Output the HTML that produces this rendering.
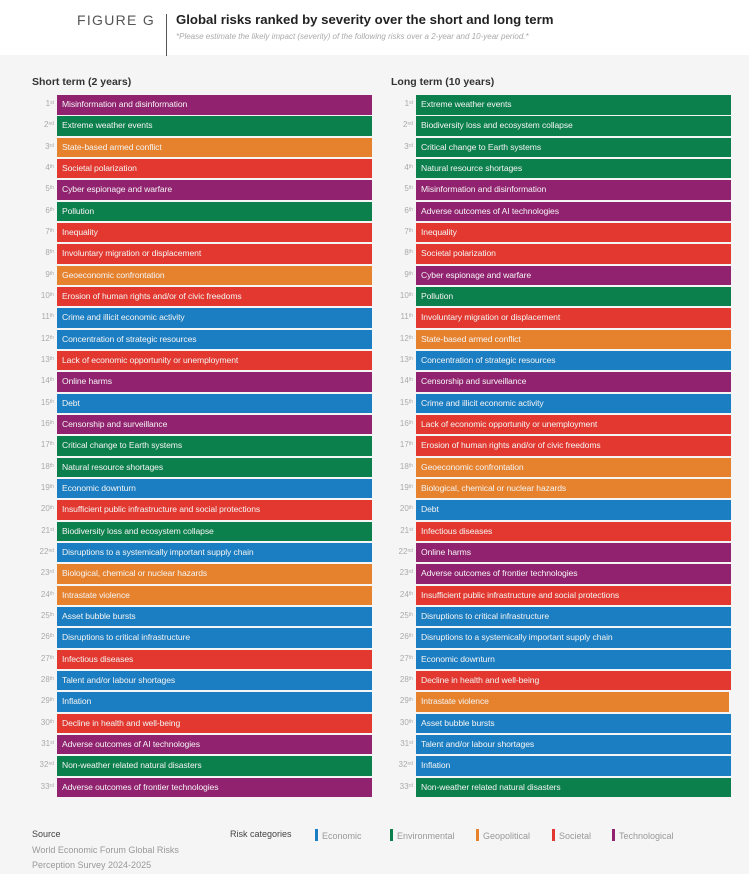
<!DOCTYPE html>
<html><head><meta charset="utf-8"><style>
*{margin:0;padding:0;box-sizing:border-box}
body{width:749px;height:874px;position:relative;background:#fff;font-family:"Liberation Sans",sans-serif;overflow:hidden}
#bg{position:absolute;left:0;top:55px;width:749px;height:819px;background:#f5f5f5}
.fig{position:absolute;left:77px;top:12px;font-size:14px;letter-spacing:1.3px;color:#555}
.vl{position:absolute;left:166px;top:14px;width:1px;height:42px;background:#555}
.tt{position:absolute;left:176px;top:12px;font-size:13.2px;font-weight:bold;color:#222}
.st{position:absolute;left:176px;top:32px;font-size:8px;font-style:italic;color:#aaa}
.h{position:absolute;top:76px;font-size:10.5px;font-weight:bold;color:#333}
.col{position:absolute;top:95px;width:380px}
.r{height:19.5px;margin-bottom:1.84px;position:relative}
.n{position:absolute;left:0;width:24px;text-align:right;top:4px;font-size:8px;color:#aaa}
.n sup{font-size:5px;vertical-align:top;line-height:8px}
.b{position:absolute;left:27px;width:315px;height:19.5px;color:#f4f4f4;font-size:8.6px;letter-spacing:-0.1px;padding-left:5px;line-height:19.5px;white-space:nowrap}
.E{background:#1b7ec2}.V{background:#0b7f4c}.G{background:#e6822e}.S{background:#e2382f}.T{background:#91226f}
.leg{position:absolute;top:829px;font-size:9px;color:#999}
.leg i{display:inline-block;width:3px;height:12px;vertical-align:-2px;margin-right:4px}
</style></head><body>
<div id="bg"></div>
<div class="fig">FIGURE G</div><div class="vl"></div>
<div class="tt">Global risks ranked by severity over the short and long term</div>
<div class="st">*Please estimate the likely impact (severity) of the following risks over a 2-year and 10-year period.*</div>
<div class="h" style="left:32px">Short term (2 years)</div>
<div class="h" style="left:391px">Long term (10 years)</div>
<div class="col" style="left:30px">
<div class="r"><span class="n">1<sup>st</sup></span><div class="b T">Misinformation and disinformation</div></div>
<div class="r"><span class="n">2<sup>nd</sup></span><div class="b V">Extreme weather events</div></div>
<div class="r"><span class="n">3<sup>rd</sup></span><div class="b G">State-based armed conflict</div></div>
<div class="r"><span class="n">4<sup>th</sup></span><div class="b S">Societal polarization</div></div>
<div class="r"><span class="n">5<sup>th</sup></span><div class="b T">Cyber espionage and warfare</div></div>
<div class="r"><span class="n">6<sup>th</sup></span><div class="b V">Pollution</div></div>
<div class="r"><span class="n">7<sup>th</sup></span><div class="b S">Inequality</div></div>
<div class="r"><span class="n">8<sup>th</sup></span><div class="b S">Involuntary migration or displacement</div></div>
<div class="r"><span class="n">9<sup>th</sup></span><div class="b G">Geoeconomic confrontation</div></div>
<div class="r"><span class="n">10<sup>th</sup></span><div class="b S">Erosion of human rights and/or of civic freedoms</div></div>
<div class="r"><span class="n">11<sup>th</sup></span><div class="b E">Crime and illicit economic activity</div></div>
<div class="r"><span class="n">12<sup>th</sup></span><div class="b E">Concentration of strategic resources</div></div>
<div class="r"><span class="n">13<sup>th</sup></span><div class="b S">Lack of economic opportunity or unemployment</div></div>
<div class="r"><span class="n">14<sup>th</sup></span><div class="b T">Online harms</div></div>
<div class="r"><span class="n">15<sup>th</sup></span><div class="b E">Debt</div></div>
<div class="r"><span class="n">16<sup>th</sup></span><div class="b T">Censorship and surveillance</div></div>
<div class="r"><span class="n">17<sup>th</sup></span><div class="b V">Critical change to Earth systems</div></div>
<div class="r"><span class="n">18<sup>th</sup></span><div class="b V">Natural resource shortages</div></div>
<div class="r"><span class="n">19<sup>th</sup></span><div class="b E">Economic downturn</div></div>
<div class="r"><span class="n">20<sup>th</sup></span><div class="b S">Insufficient public infrastructure and social protections</div></div>
<div class="r"><span class="n">21<sup>st</sup></span><div class="b V">Biodiversity loss and ecosystem collapse</div></div>
<div class="r"><span class="n">22<sup>nd</sup></span><div class="b E">Disruptions to a systemically important supply chain</div></div>
<div class="r"><span class="n">23<sup>rd</sup></span><div class="b G">Biological, chemical or nuclear hazards</div></div>
<div class="r"><span class="n">24<sup>th</sup></span><div class="b G">Intrastate violence</div></div>
<div class="r"><span class="n">25<sup>th</sup></span><div class="b E">Asset bubble bursts</div></div>
<div class="r"><span class="n">26<sup>th</sup></span><div class="b E">Disruptions to critical infrastructure</div></div>
<div class="r"><span class="n">27<sup>th</sup></span><div class="b S">Infectious diseases</div></div>
<div class="r"><span class="n">28<sup>th</sup></span><div class="b E">Talent and/or labour shortages</div></div>
<div class="r"><span class="n">29<sup>th</sup></span><div class="b E">Inflation</div></div>
<div class="r"><span class="n">30<sup>th</sup></span><div class="b S">Decline in health and well-being</div></div>
<div class="r"><span class="n">31<sup>st</sup></span><div class="b T">Adverse outcomes of AI technologies</div></div>
<div class="r"><span class="n">32<sup>nd</sup></span><div class="b V">Non-weather related natural disasters</div></div>
<div class="r"><span class="n">33<sup>rd</sup></span><div class="b T">Adverse outcomes of frontier technologies</div></div>
</div>
<div class="col" style="left:389px">
<div class="r"><span class="n">1<sup>st</sup></span><div class="b V">Extreme weather events</div></div>
<div class="r"><span class="n">2<sup>nd</sup></span><div class="b V">Biodiversity loss and ecosystem collapse</div></div>
<div class="r"><span class="n">3<sup>rd</sup></span><div class="b V">Critical change to Earth systems</div></div>
<div class="r"><span class="n">4<sup>th</sup></span><div class="b V">Natural resource shortages</div></div>
<div class="r"><span class="n">5<sup>th</sup></span><div class="b T">Misinformation and disinformation</div></div>
<div class="r"><span class="n">6<sup>th</sup></span><div class="b T">Adverse outcomes of AI technologies</div></div>
<div class="r"><span class="n">7<sup>th</sup></span><div class="b S">Inequality</div></div>
<div class="r"><span class="n">8<sup>th</sup></span><div class="b S">Societal polarization</div></div>
<div class="r"><span class="n">9<sup>th</sup></span><div class="b T">Cyber espionage and warfare</div></div>
<div class="r"><span class="n">10<sup>th</sup></span><div class="b V">Pollution</div></div>
<div class="r"><span class="n">11<sup>th</sup></span><div class="b S">Involuntary migration or displacement</div></div>
<div class="r"><span class="n">12<sup>th</sup></span><div class="b G">State-based armed conflict</div></div>
<div class="r"><span class="n">13<sup>th</sup></span><div class="b E">Concentration of strategic resources</div></div>
<div class="r"><span class="n">14<sup>th</sup></span><div class="b T">Censorship and surveillance</div></div>
<div class="r"><span class="n">15<sup>th</sup></span><div class="b E">Crime and illicit economic activity</div></div>
<div class="r"><span class="n">16<sup>th</sup></span><div class="b S">Lack of economic opportunity or unemployment</div></div>
<div class="r"><span class="n">17<sup>th</sup></span><div class="b S">Erosion of human rights and/or of civic freedoms</div></div>
<div class="r"><span class="n">18<sup>th</sup></span><div class="b G">Geoeconomic confrontation</div></div>
<div class="r"><span class="n">19<sup>th</sup></span><div class="b G">Biological, chemical or nuclear hazards</div></div>
<div class="r"><span class="n">20<sup>th</sup></span><div class="b E">Debt</div></div>
<div class="r"><span class="n">21<sup>st</sup></span><div class="b S">Infectious diseases</div></div>
<div class="r"><span class="n">22<sup>nd</sup></span><div class="b T">Online harms</div></div>
<div class="r"><span class="n">23<sup>rd</sup></span><div class="b T">Adverse outcomes of frontier technologies</div></div>
<div class="r"><span class="n">24<sup>th</sup></span><div class="b S">Insufficient public infrastructure and social protections</div></div>
<div class="r"><span class="n">25<sup>th</sup></span><div class="b E">Disruptions to critical infrastructure</div></div>
<div class="r"><span class="n">26<sup>th</sup></span><div class="b E">Disruptions to a systemically important supply chain</div></div>
<div class="r"><span class="n">27<sup>th</sup></span><div class="b E">Economic downturn</div></div>
<div class="r"><span class="n">28<sup>th</sup></span><div class="b S">Decline in health and well-being</div></div>
<div class="r"><span class="n">29<sup>th</sup></span><div class="b G" style="width:313px">Intrastate violence</div></div>
<div class="r"><span class="n">30<sup>th</sup></span><div class="b E">Asset bubble bursts</div></div>
<div class="r"><span class="n">31<sup>st</sup></span><div class="b E">Talent and/or labour shortages</div></div>
<div class="r"><span class="n">32<sup>nd</sup></span><div class="b E">Inflation</div></div>
<div class="r"><span class="n">33<sup>rd</sup></span><div class="b V">Non-weather related natural disasters</div></div>
</div>
<div class="leg" style="left:32px;color:#444">Source</div>
<div class="leg" style="left:32px;top:845px">World Economic Forum Global Risks</div>
<div class="leg" style="left:32px;top:860px">Perception Survey 2024-2025</div>
<div class="leg" style="left:230px;color:#444">Risk categories</div>
<div class="leg" style="left:315px"><i style="background:#1b7ec2"></i>Economic</div>
<div class="leg" style="left:390px"><i style="background:#0b7f4c"></i>Environmental</div>
<div class="leg" style="left:476px"><i style="background:#e6822e"></i>Geopolitical</div>
<div class="leg" style="left:552px"><i style="background:#e2382f"></i>Societal</div>
<div class="leg" style="left:612px"><i style="background:#91226f"></i>Technological</div>
</body></html>
